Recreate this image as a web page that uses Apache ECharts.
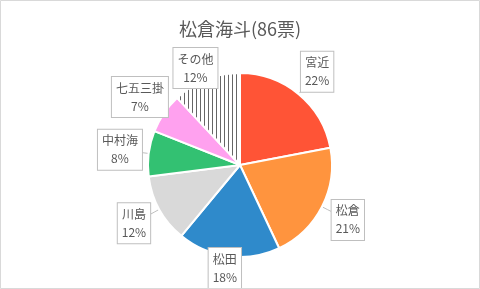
<!DOCTYPE html>
<html>
<head>
<meta charset="utf-8">
<script src="https://cdn.jsdelivr.net/npm/echarts@6/dist/echarts.min.js"></script>
<style>
html,body{margin:0;padding:0;background:#fff;}
#chart{width:480px;height:289px;}
</style>
</head>
<body>
<div id="chart"></div>
<script>
// ---- data ----
const titleText = '松倉海斗(86票)';
const categories = ['宮近', '松倉', '松田', '川島', '中村海', '七五三掛', 'その他'];
const percents = [22, 21, 18, 12, 8, 7, 12];

// ---- style ----
const palette = ['#FF5436', '#FF943E', '#2F8ACB', '#D9D9D9', '#33C172', '#FFA1EF', null];
const textColor = '#595959';

// stripe pattern for "その他"
const pc = document.createElement('canvas');
pc.width = 4; pc.height = 4;
const pctx = pc.getContext('2d');
pctx.fillStyle = '#ffffff';
pctx.fillRect(0, 0, 4, 4);
pctx.fillStyle = '#666666';
pctx.fillRect(0, 0, 1, 4);

const cx = 240, cy = 165, R = 92, labelR = 121;
const total = percents.reduce((a, b) => a + b, 0);
const midAngles = [];
let acc = 0;
percents.forEach(v => { midAngles.push((acc + v / 2) / total * Math.PI * 2); acc += v; });

const chart = echarts.init(document.getElementById('chart'), null, {renderer: 'canvas'});
chart.setOption({
  animation: false,
  backgroundColor: '#ffffff',
  title: {
    text: titleText, left: 'center', top: 15,
    textStyle: {fontFamily: 'Noto Sans CJK JP', fontSize: 18, fontWeight: 'normal', color: textColor}
  },
  graphic: [{
    type: 'rect', shape: {x: 0.5, y: 0.5, width: 479, height: 288},
    style: {fill: 'none', stroke: '#d9d9d9', lineWidth: 1}, silent: true, z: 100
  }],
  series: [{
    type: 'pie',
    center: [cx, cy],
    radius: [0, R],
    startAngle: 90,
    clockwise: true,
    data: categories.map((name, i) => ({
      name, value: percents[i],
      itemStyle: {color: palette[i] || {image: pc, repeat: 'repeat'}}
    })),
    itemStyle: {borderColor: '#ffffff', borderWidth: 2},
    label: {
      show: true, position: 'outside',
      formatter: p => p.name + '\n' + p.value + '%',
      fontFamily: 'Noto Sans CJK JP', fontSize: 12, color: textColor,
      lineHeight: 18, align: 'center',
      backgroundColor: '#ffffff', borderColor: '#bfbfbf', borderWidth: 1,
      padding: [3, 4, 1, 4]
    },
    labelLine: {show: true, lineStyle: {color: '#bfbfbf', width: 1}},
    labelLayout: function (params) {
      const a = midAngles[params.dataIndex];
      const s = Math.sin(a), c = Math.cos(a);
      let x = cx + labelR * s, y = cy - labelR * c;
      const h = params.labelRect.height;
      if (y + h / 2 > 289) y = 289 - h / 2;
      if (y - h / 2 < 47) y = 47 + h / 2;
      return {
        x: x, y: y, align: 'center', verticalAlign: 'middle',
        labelLinePoints: [
          [cx + (R + 1) * s, cy - (R + 1) * c],
          [cx + (R + 6) * s, cy - (R + 6) * c],
          [cx + (R + 12) * s, cy - (R + 12) * c]
        ]
      };
    }
  }]
});
</script>
</body>
</html>
